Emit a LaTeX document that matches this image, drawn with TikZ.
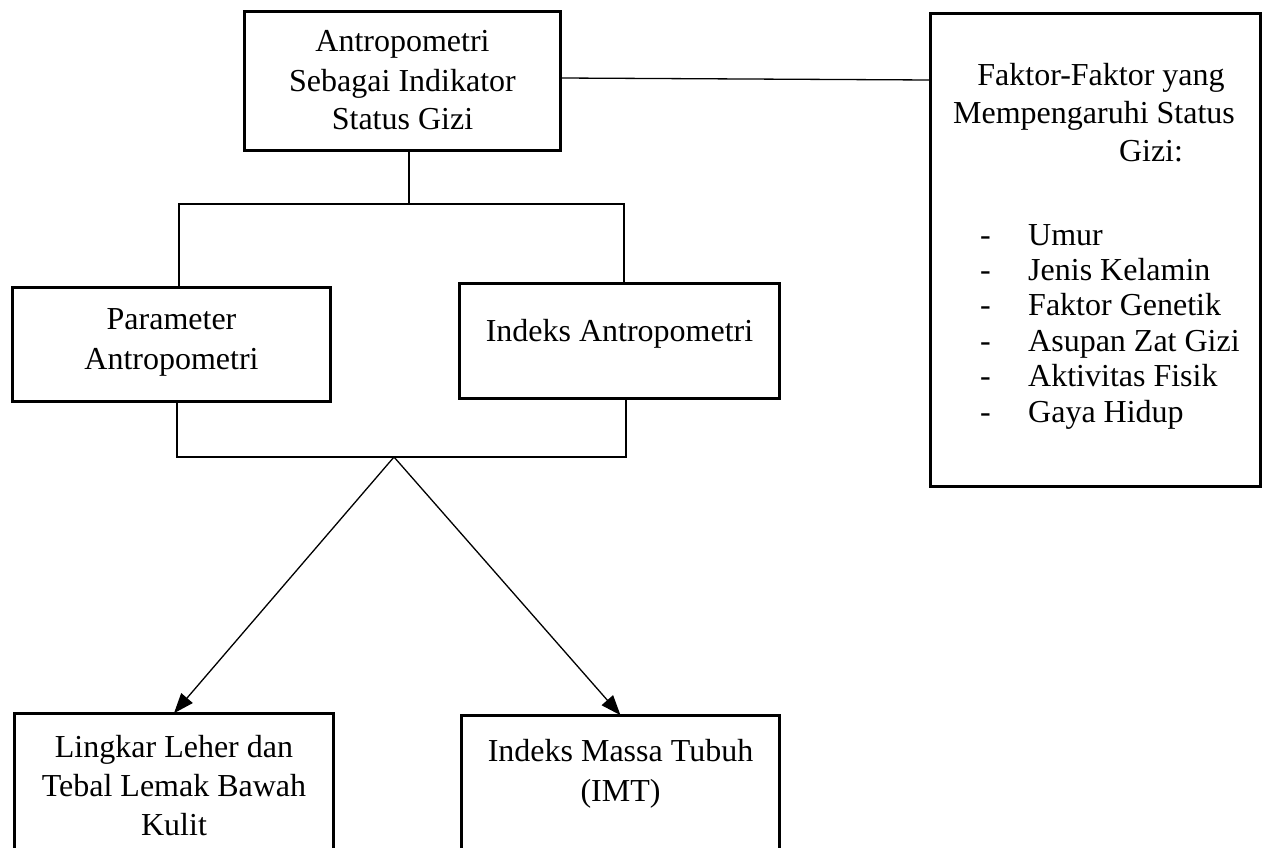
\documentclass[tikz,border=0pt]{standalone}
\usepackage{fontspec}
\setmainfont{Liberation Serif}
\usetikzlibrary{arrows.meta}
\begin{document}
\begin{tikzpicture}[x=1pt,y=-1pt,
  box/.style={draw, line width=2.8pt, inner sep=0pt, outer sep=0pt},
  conn/.style={line width=1.3pt},
  arr/.style={conn, -{Triangle[length=20pt,width=15pt]}},
  txt/.style={font=\fontsize{32}{39}\selectfont, inner sep=0pt, anchor=base},
  ltxt/.style={txt, anchor=base west}]
\useasboundingbox (0,0) rectangle (1269,848);
\clip (0,0) rectangle (1269,848);
% boxes
\node[box, minimum width=316pt, minimum height=139pt] (top) at (402.5,81) {};
\node[box, minimum width=330pt, minimum height=473pt] (right) at (1095.5,250) {};
\node[box, minimum width=318pt, minimum height=114pt] (param) at (171.5,344.5) {};
\node[box, minimum width=320pt, minimum height=115pt] (indeks) at (619.5,341) {};
\node[box, minimum width=319pt, minimum height=167pt] (bl) at (174,796.7) {};
\node[box, minimum width=318pt, minimum height=165pt] (br) at (620.5,797.7) {};
% texts
\node[txt] (t1) at (402.5,52) {Antropometri};
\node[txt] (t2) at (402.5,92) {Sebagai Indikator};
\node[txt] (t3) at (402.5,130) {Status Gizi};
\node[txt] (r1) at (1101,86) {Faktor-Faktor yang};
\node[txt] (r2) at (1094,124) {Mempengaruhi Status};
\node[txt] (r3) at (1151,161) {Gizi:};
\foreach \y/\t [count=\i] in {245/Umur, 280.4/Jenis Kelamin, 315.8/Faktor Genetik, 351.2/Asupan Zat Gizi, 386.6/Aktivitas Fisik, 422/Gaya Hidup}{
  \node[ltxt] (d\i) at (980,\y) {-};
  \node[ltxt] (l\i) at (1028,\y) {\t};
}
\node[txt] (p1) at (171.5,329) {Parameter};
\node[txt] (p2) at (171.5,369) {Antropometri};
\node[txt] (i1) at (619.5,341) {Indeks Antropometri};
\node[txt] (b1) at (174,757) {Lingkar Leher dan};
\node[txt] (b2) at (174,796) {Tebal Lemak Bawah};
\node[txt] (b3) at (174,835) {Kulit};
\node[txt] (m1) at (620.5,761) {Indeks Massa Tubuh};
\node[txt] (m2) at (620.5,801) {(IMT)};
% connectors
\draw[conn] (top.east |- 0,78) -- (right.west |- 0,80);
\coordinate (ubar) at (409,204);
\coordinate (ul) at (179,204);
\coordinate (ur) at (624,204);
\draw[conn] (top.south -| ubar) -- (ubar);
\draw[conn] (ul |- param.north) -- (ul) -- (ur) -- (ur |- indeks.north);
\coordinate (ll) at (177,457);
\coordinate (lr) at (626,457);
\coordinate (apex) at (394,457);
\draw[conn] (param.south -| ll) -- (ll) -- (lr) -- (lr |- indeks.south);
\draw[arr] (apex) -- (bl.north);
\draw[arr] (apex) -- (br.north);
\end{tikzpicture}
\end{document}
